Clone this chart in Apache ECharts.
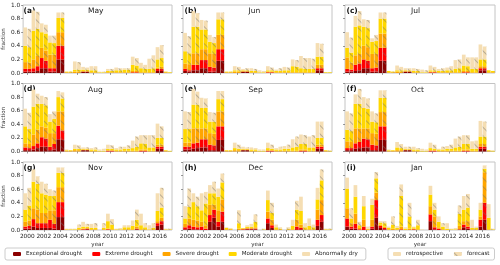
<!DOCTYPE html>
<html><head><meta charset="utf-8">
<script src="https://cdn.jsdelivr.net/npm/echarts@6/dist/echarts.min.js"></script>
<style>html,body{margin:0;padding:0;background:#fff}#c{width:500px;height:265px}</style>
</head><body><div id="c"></div>
<script>
const years = ['2000','2001','2002','2003','2004','2005','2006','2007','2008','2009','2010','2011','2012','2013','2014','2015','2016','2017'];
const categories = ['Exceptional drought','Extreme drought','Severe drought','Moderate drought','Abnormally dry'];
const catColors = ['#8B0000','#FF0000','#FFA500','#FFD700','#F5DEB3'];
const months = ['May','Jun','Jul','Aug','Sep','Oct','Nov','Dec','Jan'];
const panelLabels = ['(a)','(b)','(c)','(d)','(e)','(f)','(g)','(h)','(i)'];
const yTicks = [0, 0.2, 0.4, 0.6, 0.8, 1.0];

// each row: one year, [exceptional, extreme, severe, moderate, abnormally dry] fractions
const mayRetro = [[.02,.04,.10,.24,.27],[.02,.05,.13,.42,.30],[.07,.15,.15,.23,.13],[.02,.05,.20,.18,.10],[.20,.20,.20,.21,.08],[0,0,.01,.01,0],[0,0,.02,.03,.12],[.02,0,.01,.02,.04],[0,0,.01,.03,.06],[0,0,0,.01,.01],[0,0,.01,.02,.03],[0,0,.01,.03,.04],[0,0,.01,.04,.02],[0,.01,.02,.09,.12],[0,0,.01,.06,.08],[0,0,.01,.05,.15],[.03,.03,.02,.12,.18],[0,0,.01,.01,0]];
const mayFcst = [[.02,.04,.09,.23,.27],[.03,.07,.15,.40,.25],[.07,.11,.15,.25,.13],[.02,.05,.20,.17,.11],[.20,.20,.20,.21,.08],[0,0,.01,.01,0],[0,0,.02,.03,.11],[.015,.005,.01,.02,.03],[0,0,.01,.03,.06],[0,0,0,.01,.01],[0,0,.01,.02,.03],[0,0,.01,.03,.03],[0,0,.01,.04,.02],[0,.01,.02,.08,.11],[0,0,.01,.05,.06],[0,0,.01,.06,.19],[.03,.03,.03,.13,.19],[0,0,0,.01,0]];
const junRetro = [[.03,.03,.08,.18,.27],[.04,.08,.17,.39,.23],[.07,.12,.16,.29,.14],[.02,.07,.20,.17,.10],[.18,.17,.21,.23,.10],[0,0,.01,.01,0],[0,0,.02,.02,.06],[.02,0,.01,.01,.02],[0,0,.01,.02,.04],[0,0,0,.01,.03],[0,.01,.01,.02,.06],[0,0,.01,.02,.02],[0,0,.01,.03,.05],[0,0,.01,.09,.10],[0,0,.01,.06,.18],[0,0,.01,.05,.16],[.04,.03,.05,.12,.20],[0,0,0,.01,0]];
const junFcst = [[.02,.02,.09,.16,.25],[.04,.08,.17,.39,.20],[.07,.12,.16,.29,.13],[.02,.06,.20,.16,.09],[.18,.17,.21,.23,.10],[0,0,.01,.01,0],[0,0,.02,.02,.05],[.02,0,.01,.01,.03],[0,0,.01,.02,.03],[0,0,0,.01,.02],[0,.01,.01,.02,.04],[0,0,.01,.02,.04],[0,0,.01,.03,.04],[0,0,.01,.08,.10],[0,0,.01,.05,.16],[0,0,.01,.05,.15],[.04,.03,.05,.12,.19],[0,0,0,.01,0]];
const julRetro = [[.02,.04,.17,.14,.23],[.03,.09,.14,.42,.16],[.07,.13,.20,.28,.11],[.02,.05,.21,.18,.05],[.18,.19,.21,.22,.09],[0,0,.01,.02,0],[0,0,.02,.02,.07],[.02,0,.01,.01,.03],[0,0,.01,.02,.04],[0,0,0,.01,.04],[0,.01,.01,.02,.07],[0,0,.01,.02,.03],[0,0,.01,.03,.04],[0,0,.01,.05,.13],[0,.01,.02,.08,.16],[0,0,.01,.05,.17],[.04,.03,.03,.10,.22],[0,0,.01,.03,0]];
const julFcst = [[.02,.03,.10,.15,.22],[.04,.10,.14,.42,.21],[.07,.11,.20,.28,.12],[.02,.06,.20,.19,.09],[.18,.19,.21,.22,.09],[0,0,.01,.01,0],[0,0,.02,.02,.05],[.02,0,.01,.01,.03],[0,0,.01,.02,.03],[0,0,0,.01,.03],[0,.01,.01,.02,.05],[0,0,.01,.02,.04],[0,0,.01,.03,.06],[0,0,.01,.06,.13],[0,.01,.02,.07,.13],[0,0,.01,.05,.17],[.04,.03,.03,.10,.19],[0,0,.01,.02,0]];
const augRetro = [[.02,.04,.06,.25,.26],[.03,.05,.17,.41,.25],[.07,.14,.16,.33,.12],[.02,.05,.20,.17,.11],[.18,.20,.21,.21,.09],[0,0,.01,.01,.01],[0,0,.02,.02,.06],[.02,0,.01,.01,.02],[0,0,.01,.02,.02],[0,0,0,.01,.02],[0,.01,.01,.02,.06],[0,0,.01,.02,.02],[0,0,.01,.03,.03],[0,0,.01,.04,.11],[0,.01,.02,.09,.12],[0,0,.01,.05,.18],[.04,.03,.03,.10,.21],[0,0,.01,.01,0]];
const augFcst = [[.02,.03,.06,.22,.24],[.05,.07,.20,.38,.15],[.07,.12,.16,.33,.12],[.03,.08,.16,.21,.11],[.17,.14,.28,.19,.09],[0,0,.01,.01,0],[0,0,.02,.02,.05],[.02,0,.01,.01,.02],[0,0,.01,.02,.03],[0,0,0,.01,.03],[0,.01,.01,.02,.05],[0,0,.01,.02,.04],[0,0,.01,.03,.05],[0,0,.01,.06,.15],[0,.01,.02,.08,.13],[0,0,.01,.05,.18],[.04,.03,.03,.10,.17],[0,0,0,.01,0]];
const sepRetro = [[.03,.04,.06,.20,.26],[.04,.08,.22,.35,.23],[.06,.12,.16,.30,.15],[.02,.08,.17,.17,.14],[.17,.20,.22,.18,.12],[0,0,.01,.01,0],[0,0,.02,.03,.08],[.02,0,.01,.01,.03],[0,0,.01,.02,.03],[0,0,0,.01,.02],[0,.01,.01,.03,.08],[0,0,.01,.02,.02],[0,0,.01,.03,.04],[0,0,.01,.05,.12],[0,.01,.02,.08,.14],[0,0,.01,.05,.16],[.04,.03,.03,.10,.24],[0,0,.01,.01,0]];
const sepFcst = [[.03,.04,.06,.20,.25],[.05,.08,.21,.35,.19],[.06,.12,.16,.30,.14],[.02,.07,.17,.18,.13],[.17,.20,.22,.18,.12],[0,0,.01,.01,0],[0,0,.02,.02,.06],[.02,0,.01,.01,.02],[0,0,.01,.02,.02],[0,0,0,.01,.02],[0,.01,.01,.02,.06],[0,0,.01,.02,.04],[0,0,.01,.03,.06],[0,0,.01,.06,.15],[0,.01,.02,.08,.13],[0,0,.01,.05,.18],[.04,.03,.03,.10,.24],[0,0,0,.01,.01]];
const octRetro = [[.02,.03,.10,.17,.27],[.04,.08,.22,.36,.14],[.06,.13,.15,.30,.16],[.02,.08,.17,.17,.15],[.17,.20,.21,.21,.11],[0,0,.01,.01,.01],[0,0,.02,.04,.08],[.02,0,.01,.01,.03],[0,0,.01,.02,.04],[0,0,0,.01,.03],[0,.01,.01,.03,.08],[0,0,.01,.02,.01],[0,0,.01,.03,.04],[0,0,.01,.05,.13],[0,.01,.02,.08,.13],[0,0,.01,.03,.11],[.04,.03,.04,.11,.23],[0,0,.01,.01,0]];
const octFcst = [[.02,.03,.09,.16,.26],[.05,.09,.20,.36,.22],[.06,.12,.16,.29,.15],[.02,.07,.17,.17,.13],[.17,.20,.21,.21,.11],[0,0,.01,.01,0],[0,0,.02,.03,.06],[.02,0,.01,.01,.03],[0,0,.01,.02,.02],[0,0,0,.01,.02],[0,.01,.01,.02,.06],[0,0,.01,.02,.04],[0,0,.01,.03,.06],[0,0,.01,.06,.15],[0,.01,.02,.08,.13],[0,0,.01,.03,.12],[.04,.03,.04,.11,.22],[0,0,0,.01,.01]];
const novRetro = [[.02,.03,.07,.18,.24],[.05,.11,.16,.39,.18],[.03,.07,.15,.29,.17],[.03,.12,.14,.21,.10],[.19,.22,.22,.21,.08],[0,0,0,.01,.01],[0,0,0,.01,.01],[0,.01,.01,.03,.07],[0,0,.01,.02,.06],[0,0,0,0,0],[0,.01,.01,.11,.11],[0,0,0,.01,.01],[0,0,.01,.03,.03],[0,0,.01,.05,.08],[0,0,.01,.06,.17],[0,0,0,.01,.06],[.06,.04,.03,.15,.26],[0,0,0,.01,.01]];
const novFcst = [[.02,.04,.08,.22,.26],[.03,.07,.20,.38,.11],[.03,.07,.15,.27,.16],[.02,.07,.20,.21,.08],[.19,.22,.22,.21,.08],[0,0,0,.01,.01],[0,0,.01,.02,.05],[.01,.01,.01,.02,.04],[0,0,.01,.02,.07],[0,0,.01,.02,.07],[0,0,.01,.07,.08],[0,0,0,.01,.02],[0,0,.01,.03,.03],[.01,.01,.03,.10,.15],[0,0,.01,.03,.06],[0,0,.01,.02,.07],[.08,.05,.05,.15,.29],[0,0,0,.01,.01]];
const decRetro = [[.01,.03,.05,.08,.18],[.01,.04,.10,.26,.13],[0,.05,.07,.17,.25],[.12,.10,.15,.17,.12],[.05,.07,.17,.20,.12],[0,0,.01,.02,.01],[0,0,0,0,0],[0,.01,.01,.01,0],[.01,.01,.01,.02,.04],[0,0,0,0,0],[.10,.07,.10,.17,.14],[0,0,.01,.03,.04],[0,0,0,0,0],[0,0,.01,.05,.09],[.01,.02,.05,.20,.21],[0,0,.01,.05,.11],[.06,.09,.15,.15,.17],[0,0,0,.01,.01]];
const decFcst = [[.02,.05,.10,.17,.27],[.01,.03,.10,.21,.14],[0,.02,.05,.32,.17],[.18,.12,.07,.17,.17],[.12,.15,.18,.25,.13],[0,0,.01,.01,.01],[0,0,.02,.08,.19],[.01,.01,.01,.02,.02],[.01,.01,.02,.08,.11],[0,0,0,.01,.01],[.03,.04,.08,.10,.15],[0,0,.01,.01,.02],[0,0,.01,.01,.02],[0,.05,.10,.15,.13],[0,0,.01,.03,.06],[0,0,.01,.03,.04],[.12,.10,.22,.29,.16],[0,0,0,.01,.01]];
const janRetro = [[.05,.12,.15,.29,.16],[.02,.07,.15,.25,.17],[0,.05,.10,.20,.15],[.02,.03,.10,.22,.09],[.03,.03,.02,.03,.02],[0,0,.01,.02,.02],[0,0,.01,.02,.03],[0,0,0,.02,.02],[0,.01,.01,.02,.01],[0,0,0,0,.01],[.13,.10,.12,.17,.13],[0,.02,.02,.08,.08],[0,0,0,.02,.08],[0,0,0,.01,.02],[.04,.04,.05,.17,.20],[0,0,.01,.02,.12],[.05,.10,.05,.10,.10],[0,0,.01,.17,.20]];
const janFcst = [[.02,.03,.05,.07,.15],[0,.01,.02,.04,.05],[0,0,.01,.01,.03],[.18,.26,.11,.21,.09],[.01,.02,.02,.05,.03],[0,0,.02,.06,.12],[0,.01,.04,.45,.17],[0,0,.02,.18,.20],[0,0,.01,.06,.08],[0,0,0,0,0],[.01,.03,.16,.10,.10],[0,0,.01,.04,.05],[0,0,0,.01,.01],[0,.01,.05,.18,.12],[.02,.03,.08,.20,.20],[0,0,.01,.02,.02],[.15,.25,.45,.05,.05],[0,0,0,.01,.01]];

const retroData = [mayRetro, junRetro, julRetro, augRetro, sepRetro, octRetro, novRetro, decRetro, janRetro];
const fcstData = [mayFcst, junFcst, julFcst, augFcst, sepFcst, octFcst, novFcst, decFcst, janFcst];

const FONT = 'DejaVu Sans';
const colLeft = [22, 183, 345];
const colWidth = [150, 149, 150];
const rowTop = [5, 83.5, 162];
const H = 68;
const hatch = {symbol:'rect', symbolSize:1, dashArrayX:[1,0], dashArrayY:[0.8,5], rotation:Math.PI/4, color:'rgba(110,110,110,0.45)'};

const grids = [], xAxes = [], yAxes = [], series = [], graphics = [];
for (let p = 0; p < 9; p++) {
  const r = Math.floor(p / 3), c = p % 3;
  const left = colLeft[c], top = rowTop[r], w = colWidth[c];
  grids.push({left: left, top: top, width: w, height: H, show: true, borderColor: '#c4c4c4', borderWidth: 1, backgroundColor: 'transparent'});
  const bottom = r === 2;
  xAxes.push({
    type: 'category', gridIndex: p, data: years,
    axisLine: {show: false},
    axisTick: {show: true, alignWithLabel: true, interval: 1, length: 2, lineStyle: {color: '#555', width: 0.6}},
    axisLabel: {show: bottom, interval: 1, fontSize: 5.8, fontFamily: FONT, color: '#222', margin: 3},
    name: bottom ? 'year' : '', nameLocation: 'middle', nameGap: 12,
    nameTextStyle: {fontSize: 5.6, fontFamily: FONT, color: '#333'}
  });
  yAxes.push({
    type: 'value', gridIndex: p, min: yTicks[0], max: yTicks[yTicks.length - 1], interval: 0.2,
    axisLine: {show: false}, splitLine: {show: false},
    axisTick: {show: true, length: 2, lineStyle: {color: '#555', width: 0.6}},
    axisLabel: {show: c === 0, fontSize: 5.8, fontFamily: FONT, color: '#222', margin: 3, formatter: v => v.toFixed(1)},
    name: c === 0 ? 'fraction' : '', nameLocation: 'middle', nameGap: 14, nameRotate: 90,
    nameTextStyle: {fontSize: 5.6, fontFamily: FONT, color: '#333'}
  });
  for (let k = 0; k < 5; k++) {
    series.push({
      type: 'bar', name: categories[k], xAxisIndex: p, yAxisIndex: p, stack: 'r' + p,
      barWidth: 3.7, barGap: '12%',
      data: retroData[p].map(row => row[k]),
      itemStyle: {color: catColors[k]}, emphasis: {disabled: true}
    });
  }
  for (let k = 0; k < 5; k++) {
    series.push({
      type: 'bar', name: categories[k], xAxisIndex: p, yAxisIndex: p, stack: 'f' + p,
      barWidth: 3.7, barGap: '12%',
      data: fcstData[p].map(row => row[k]),
      itemStyle: {color: catColors[k], decal: hatch}, emphasis: {disabled: true}
    });
  }
  graphics.push({type: 'text', left: left + w / 2 - 9, top: top + 2.5, silent: true,
    style: {text: months[p], font: '7.5px "' + FONT + '"', fill: '#222'}});
  graphics.push({type: 'text', left: left + 1.5, top: top + 2, silent: true,
    style: {text: panelLabels[p], font: 'bold 7.5px "' + FONT + '"', fill: '#111'}});
}
// legend-only entries for the two data sources
series.push({type: 'bar', name: 'retrospective', xAxisIndex: 0, yAxisIndex: 0, stack: 'r0', barWidth: 3.7, data: [], itemStyle: {color: '#F5DEB3'}});
series.push({type: 'bar', name: 'forecast', xAxisIndex: 0, yAxisIndex: 0, stack: 'f0', barWidth: 3.7, data: [], itemStyle: {color: '#F5DEB3', decal: hatch}});

const legendText = {fontSize: 5.6, fontFamily: FONT, color: '#222'};
const option = {
  animation: false,
  backgroundColor: '#fff',
  grid: grids, xAxis: xAxes, yAxis: yAxes, series: series,
  graphic: graphics,
  legend: [
    {data: categories, left: 5, top: 248, padding: [3, 8], itemWidth: 8, itemHeight: 4, itemGap: 10,
     borderColor: '#ccc', borderWidth: 1, borderRadius: 2, textStyle: legendText, selectedMode: false},
    {data: ['retrospective', 'forecast'], left: 388, top: 248, padding: [3, 5], itemWidth: 8, itemHeight: 4, itemGap: 11,
     borderColor: '#ccc', borderWidth: 1, borderRadius: 2, textStyle: legendText, selectedMode: false}
  ]
};
const chart = echarts.init(document.getElementById('c'), null, {renderer: 'canvas'});
chart.setOption(option);
</script></body></html>
